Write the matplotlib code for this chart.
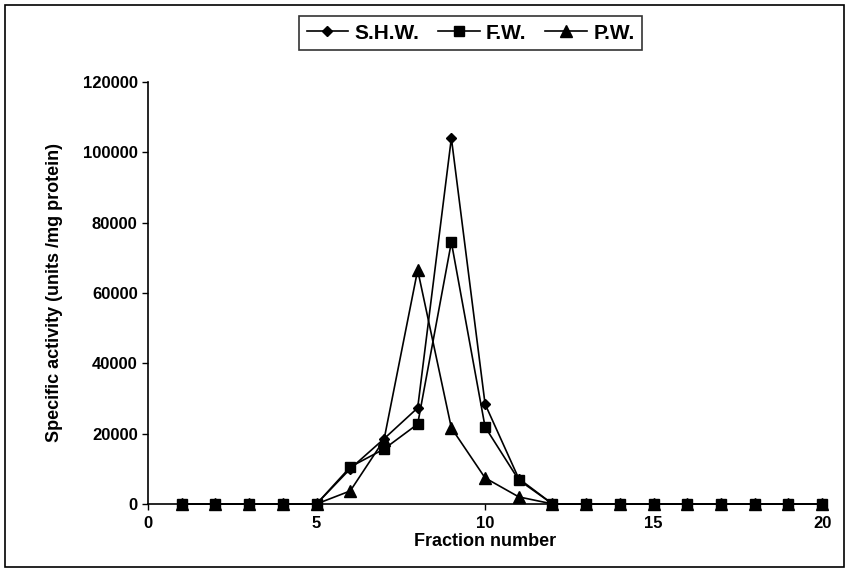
import matplotlib.pyplot as plt
from matplotlib.patches import Rectangle

plt.rcParams['font.family'] = ['Liberation Sans', 'DejaVu Sans']
plt.rcParams['font.weight'] = 'bold'

fractions = list(range(1, 21))
shw = [0, 0, 0, 0, 0, 10000, 18500, 27300, 104000, 28400, 7200, 0,
       0, 0, 0, 0, 0, 0, 0, 0]
fw = [0, 0, 0, 0, 0, 10500, 15600, 22700, 74400, 21900, 6800, 0,
      0, 0, 0, 0, 0, 0, 0, 0]
pw = [0, 0, 0, 0, 0, 3700, 18200, 66500, 21600, 7400, 2000, 0,
      0, 0, 0, 0, 0, 0, 0, 0]

fig = plt.figure(figsize=(8.51, 5.72), dpi=100)
ax = fig.add_axes([0.174, 0.119, 0.792, 0.738])

ax.plot(fractions, shw, color='black', lw=1.2, marker='D', markersize=5,
        label='S.H.W.')
ax.plot(fractions, fw, color='black', lw=1.2, marker='s', markersize=7.5,
        label='F.W.')
ax.plot(fractions, pw, color='black', lw=1.2, marker='^', markersize=8,
        label='P.W.')

ax.set_xlim(0, 20)
ax.set_ylim(0, 120000)
ax.set_xticks([0, 5, 10, 15, 20])
ax.set_yticks(range(0, 120001, 20000))
ax.tick_params(axis='both', labelsize=12, width=1, length=4, direction='out')
ax.tick_params(axis='x', pad=5)

for s in ['top', 'right']:
    ax.spines[s].set_visible(False)
ax.spines['left'].set_linewidth(1.2)
ax.spines['bottom'].set_linewidth(1.2)
for ln in ax.lines:
    ln.set_clip_on(False)

ax.set_xlabel('Fraction number', fontsize=13, fontweight='bold', labelpad=1)
ax.set_ylabel('Specific activity (units /mg protein)', fontsize=13,
              fontweight='bold', labelpad=14)

leg = fig.legend(loc='center', bbox_to_anchor=(0.553, 0.942), ncol=3,
                 frameon=True, fancybox=False, edgecolor='black',
                 fontsize=15, handlelength=2.0, columnspacing=0.9,
                 handletextpad=0.3, borderpad=0.35)
leg.get_frame().set_linewidth(1.2)

fig.patches.append(Rectangle((0.006, 0.008), 0.986, 0.984,
                             transform=fig.transFigure, fill=False,
                             edgecolor='black', lw=1.2))

fig.savefig('out.png', dpi=100)
